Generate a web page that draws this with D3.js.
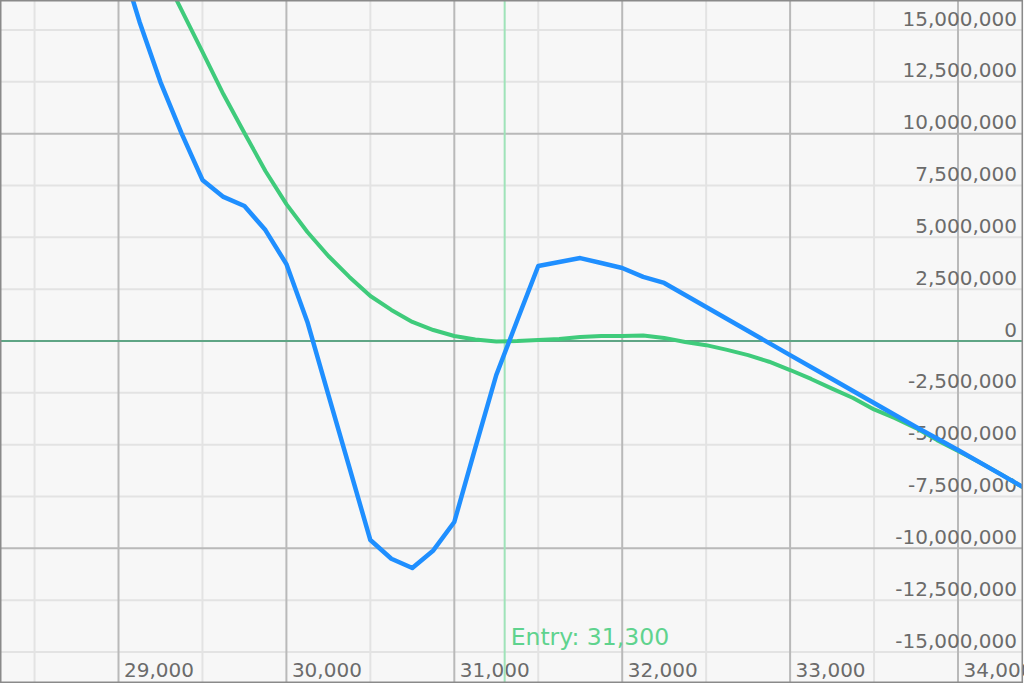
<!DOCTYPE html>
<html>
<head>
<meta charset="utf-8">
<script src="https://cdn.jsdelivr.net/npm/d3@7"></script>
<style>
  html, body { margin: 0; padding: 0; background: #f7f7f7; }
  svg { display: block; }
  text { font-family: "DejaVu Sans", Verdana, sans-serif; }
</style>
</head>
<body>
<svg id="chart" width="1024" height="683"></svg>
<script>
// ---- data ----
const bluePrice = [29000, 29125, 29250, 29375, 29500, 29625, 29750, 29875, 30000, 30125, 30250, 30375, 30500, 30625, 30750, 30875, 31000, 31125, 31250, 31375, 31500, 31625, 31750, 31875, 32000, 32125, 32250, 32500, 32750, 33000, 33250, 33500, 33750, 34000, 34250, 34500];
const bluePnl = [18.7e6, 15.4e6, 12.49e6, 10.03e6, 7.77e6, 6.95e6, 6.51e6, 5.35e6, 3.71e6, 0.92e6, -2.6e6, -6.1e6, -9.6e6, -10.5e6, -10.95e6, -10.1e6, -8.73e6, -5.16e6, -1.64e6, 1.0e6, 3.62e6, 3.81e6, 4.0e6, 3.76e6, 3.52e6, 3.09e6, 2.8e6, 1.64e6, 0.48e6, -0.68e6, -1.83e6, -2.99e6, -4.15e6, -5.26e6, -6.41e6, -7.57e6];

const greenPrice = [29250, 29375, 29500, 29625, 29750, 29875, 30000, 30125, 30250, 30375, 30500, 30625, 30750, 30875, 31000, 31125, 31250, 31375, 31500, 31625, 31750, 31875, 32000, 32125, 32250, 32375, 32500, 32625, 32750, 32875, 33000, 33125, 33250, 33375, 33500, 33625, 33750, 33875, 34000, 34125, 34250, 34375, 34500];
const greenPnl = [18.0e6, 15.97e6, 13.94e6, 11.9e6, 10.03e6, 8.2e6, 6.6e6, 5.26e6, 4.1e6, 3.09e6, 2.17e6, 1.5e6, 0.92e6, 0.53e6, 0.24e6, 0.07e6, -0.02e6, 0.0, 0.05e6, 0.1e6, 0.19e6, 0.24e6, 0.24e6, 0.27e6, 0.15e6, -0.05e6, -0.2e6, -0.43e6, -0.68e6, -1.0e6, -1.4e6, -1.83e6, -2.3e6, -2.75e6, -3.3e6, -3.72e6, -4.2e6, -4.78e6, -5.3e6, -5.84e6, -6.4e6, -7.0e6, -7.57e6];

const entryPrice = 31300;
const entryLabel = "Entry: 31,300";

const xTickValues = [29000, 30000, 31000, 32000, 33000, 34000];
const xMinorValues = [28500, 29500, 30500, 31500, 32500, 33500];
const yTickValues = [-15e6, -12.5e6, -10e6, -7.5e6, -5e6, -2.5e6, 0, 2.5e6, 5e6, 7.5e6, 10e6, 12.5e6, 15e6];
const yMajorValues = [-10e6, 10e6];

// ---- layout ----
const W = 1022, H = 682;
const svg = d3.select("#chart");

const x = d3.scaleLinear().domain([29000, 34000]).range([118.5, 958]);
const y = d3.scaleLinear().domain([-15e6, 15e6]).range([652, 30]);

const locale = d3.formatLocale({ decimal: ".", thousands: ",", grouping: [3], currency: ["$", ""], minus: "-" });
const fmt = locale.format(",");

svg.append("rect").attr("x", 0).attr("y", 0).attr("width", 1024).attr("height", 683).attr("fill", "#f7f7f7");

svg.append("clipPath").attr("id", "clip")
  .append("rect").attr("x", 1).attr("y", 1).attr("width", W - 1).attr("height", H - 1);

const grid = svg.append("g");

// minor grid
yTickValues.filter(v => v !== 0 && !yMajorValues.includes(v)).forEach(v => {
  grid.append("line").attr("x1", 0).attr("x2", W).attr("y1", y(v)).attr("y2", y(v))
    .attr("stroke", "#e3e3e3").attr("stroke-width", 2);
});
xMinorValues.forEach(v => {
  grid.append("line").attr("y1", 0).attr("y2", H).attr("x1", x(v)).attr("x2", x(v))
    .attr("stroke", "#e3e3e3").attr("stroke-width", 2);
});
// major grid
yMajorValues.forEach(v => {
  grid.append("line").attr("x1", 0).attr("x2", W).attr("y1", y(v)).attr("y2", y(v))
    .attr("stroke", "#b9b9b9").attr("stroke-width", 2);
});
xTickValues.forEach(v => {
  grid.append("line").attr("y1", 0).attr("y2", H).attr("x1", x(v)).attr("x2", x(v))
    .attr("stroke", "#b9b9b9").attr("stroke-width", 2);
});

// axes labels
const yAxis = d3.axisLeft(y).tickValues(yTickValues).tickFormat(fmt).tickSize(0).tickPadding(0);
const gy = svg.append("g").attr("transform", "translate(1017,0)").call(yAxis);
gy.select(".domain").remove();
gy.selectAll("text").attr("dy", null).attr("y", -5).attr("x", 0)
  .attr("text-anchor", "end").attr("fill", "#6b6b6b").attr("font-size", 20)
  .attr("font-family", "DejaVu Sans, Verdana, sans-serif");

const xAxis = d3.axisBottom(x).tickValues(xTickValues).tickFormat(fmt).tickSize(0).tickPadding(0);
const gx = svg.append("g").attr("transform", "translate(0,677)").call(xAxis);
gx.select(".domain").remove();
gx.selectAll("text").attr("dy", null).attr("y", 0).attr("x", 5)
  .attr("text-anchor", "start").attr("fill", "#6b6b6b").attr("font-size", 20)
  .attr("font-family", "DejaVu Sans, Verdana, sans-serif");

// zero line
svg.append("line").attr("x1", 0).attr("x2", W).attr("y1", y(0)).attr("y2", y(0))
  .attr("stroke", "#5fa585").attr("stroke-width", 2);

// entry line
svg.append("line").attr("x1", x(entryPrice)).attr("x2", x(entryPrice)).attr("y1", 0).attr("y2", H)
  .attr("stroke", "#9fe3b9").attr("stroke-width", 2);

const plot = svg.append("g").attr("clip-path", "url(#clip)");
const line = d3.line().x(d => x(d[0])).y(d => y(d[1]));

plot.append("path")
  .datum(greenPrice.map((p, i) => [p, greenPnl[i]]))
  .attr("d", line).attr("fill", "none").attr("stroke", "#3fcb7b").attr("stroke-width", 4)
  .attr("stroke-linejoin", "round");

plot.append("path")
  .datum(bluePrice.map((p, i) => [p, bluePnl[i]]))
  .attr("d", line).attr("fill", "none").attr("stroke", "#1f8fff").attr("stroke-width", 4.5)
  .attr("stroke-linejoin", "round");

// entry label
svg.append("text").attr("x", x(entryPrice) + 6).attr("y", 645)
  .attr("fill", "#5fd38e").attr("font-size", 23.5)
  .attr("font-family", "DejaVu Sans, Verdana, sans-serif")
  .text(entryLabel);

// border
svg.append("rect").attr("x", 0.75).attr("y", 0.75).attr("width", W - 0.5).attr("height", H - 0.5)
  .attr("fill", "none").attr("stroke", "#8a8a8a").attr("stroke-width", 1.5);
</script>
</body>
</html>
